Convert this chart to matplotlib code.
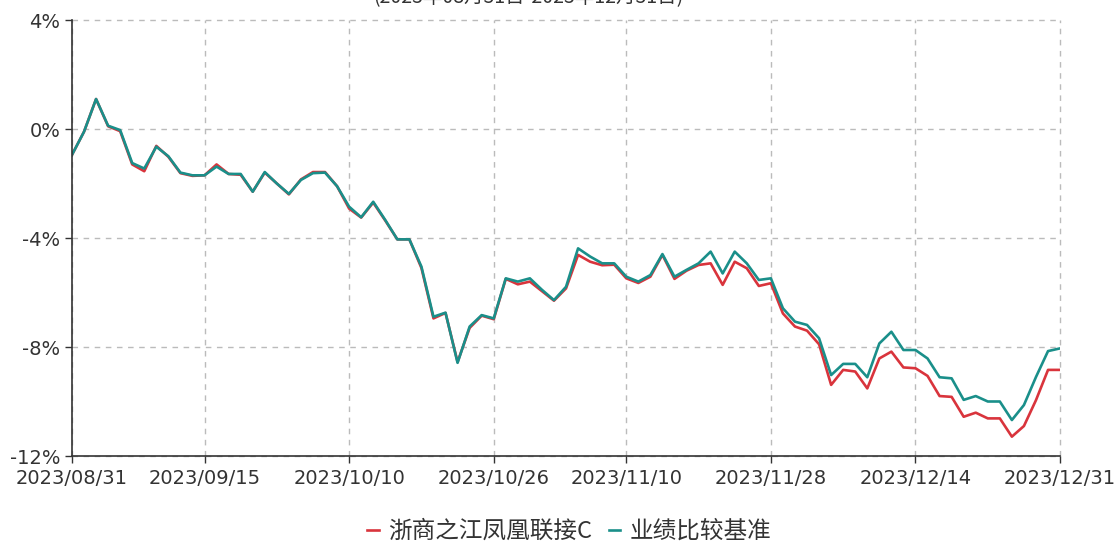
import matplotlib
matplotlib.use("Agg")
import matplotlib.pyplot as plt
from matplotlib.ticker import FuncFormatter

plt.rcParams['font.family'] = ['DejaVu Sans', 'Noto Sans CJK SC']

title = "(2023年08月31日-2023年12月31日)"
fund_name = "浙商之江凤凰联接C"
bench_name = "业绩比较基准"

# tick labels and the data index each sits on
tick_idx = [0, 11, 23, 35, 46, 58, 70, 82]
tick_labels = ["2023/08/31", "2023/09/15", "2023/10/10", "2023/10/26",
               "2023/11/10", "2023/11/28", "2023/12/14", "2023/12/31"]

# cumulative return, %
fund = [-0.95, -0.1, 1.1, 0.1, -0.08, -1.3, -1.55, -0.62, -1.02, -1.62,
        -1.72, -1.7, -1.3, -1.65, -1.68, -2.3, -1.6, -2.0, -2.4, -1.85,
        -1.58, -1.58, -2.1, -2.92, -3.25, -2.7, -3.36, -4.05, -4.05, -5.1,
        -6.95, -6.75, -8.55, -7.3, -6.85, -6.98, -5.5, -5.7, -5.6, -5.95,
        -6.3, -5.85, -4.62, -4.87, -5.0, -4.98, -5.48, -5.65, -5.42, -4.62,
        -5.5, -5.2, -4.99, -4.93, -5.72, -4.87, -5.11, -5.76, -5.66, -6.77,
        -7.25, -7.4, -7.9, -9.39, -8.84, -8.9, -9.52, -8.42, -8.17, -8.75,
        -8.78, -9.06, -9.8, -9.83, -10.56, -10.41, -10.62, -10.62, -11.29, -10.9,
        -9.95, -8.84, -8.84]
bench = [-0.95, -0.1, 1.1, 0.12, -0.04, -1.25, -1.45, -0.65, -1.0, -1.6,
         -1.7, -1.7, -1.38, -1.65, -1.65, -2.3, -1.58, -2.0, -2.38, -1.87,
         -1.62, -1.6, -2.1, -2.85, -3.24, -2.67, -3.34, -4.05, -4.05, -5.05,
         -6.89, -6.74, -8.58, -7.25, -6.83, -6.95, -5.48, -5.6, -5.48, -5.9,
         -6.28, -5.79, -4.38, -4.68, -4.93, -4.93, -5.42, -5.6, -5.36, -4.59,
         -5.42, -5.17, -4.93, -4.5, -5.3, -4.5, -4.93, -5.54, -5.48, -6.58,
         -7.07, -7.19, -7.68, -9.03, -8.62, -8.62, -9.11, -7.87, -7.44, -8.11,
         -8.11, -8.42, -9.11, -9.15, -9.94, -9.8, -10.0, -10.0, -10.68, -10.13,
         -9.1, -8.15, -8.05]

red = "#d9343c"
teal = "#1a8f8a"

fig = plt.figure(figsize=(11.14, 5.45), dpi=100)
ax = fig.add_axes([0.0646, 0.1633, 0.887, 0.8])

x = list(range(len(fund)))
ax.plot(x, fund, color=red, lw=1.9, label=fund_name)
ax.plot(x, bench, color=teal, lw=1.9, label=bench_name)

ax.set_xlim(0, len(fund) - 1)
ax.set_ylim(-12, 4)
ax.set_yticks([-12, -8, -4, 0, 4])
ax.yaxis.set_major_formatter(FuncFormatter(lambda v, p: "%d%%" % v))
ax.set_xticks(tick_idx)
ax.set_xticklabels(tick_labels)

ax.grid(True, color="#bbbbbb", linestyle=(0, (4, 4)), lw=1)
for gl in ax.get_xgridlines() + ax.get_ygridlines():
    gl.set_clip_on(False)
ax.set_axisbelow(True)
for s in ["top", "right"]:
    ax.spines[s].set_visible(False)
for s in ["left", "bottom"]:
    ax.spines[s].set_color("#333333")
    ax.spines[s].set_linewidth(1.2)
ax.tick_params(axis="both", colors="#333333", labelsize=14, length=5, width=1)
ax.tick_params(axis="x", pad=4)

# title sits mostly above the canvas, as in the original
fig.text(0.474, 1.004, title, ha="center", va="center", fontsize=14,
         color="#333333", family=['Noto Sans CJK SC', 'DejaVu Sans'])

leg = fig.legend(loc="lower center", ncol=2, frameon=False,
                 handlelength=0.5, handletextpad=0.4, columnspacing=0.7,
                 bbox_to_anchor=(0.511, -0.035),
                 prop={'family': ['Noto Sans CJK SC', 'DejaVu Sans'], 'size': 17})
for t in leg.get_texts():
    t.set_color("#333333")

fig.savefig("out.png", dpi=100)
